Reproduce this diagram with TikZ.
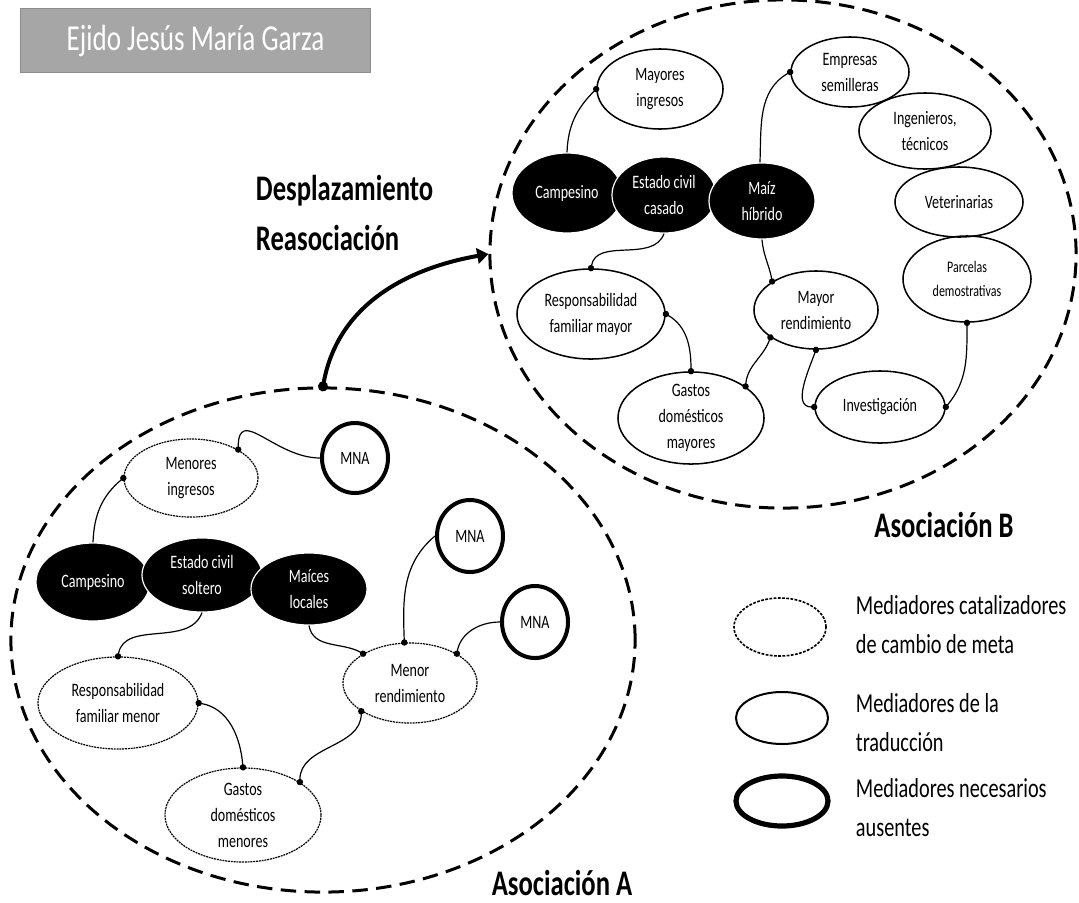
\documentclass[tikz,border=0pt]{standalone}
\usepackage{fontspec}
\setmainfont{Carlito}[FakeStretch=0.74]
\usetikzlibrary{shapes.geometric,arrows.meta}
\tikzset{
	sz/.style 2 args={inner sep=0pt, minimum width=#1*0.05cm, minimum height=#2*0.05cm},
	txt/.style={align=center, font=\fontsize{13.5}{18.5}\selectfont},
	actor/.style={ellipse, fill=black, draw=white, line width=0.3mm, text=white, txt},
	trad/.style={ellipse, draw, line width=0.38mm, txt},
	cata/.style={ellipse, draw, line width=0.3mm, dash pattern=on 1.4pt off 0.6pt, txt},
	ausente/.style={ellipse, draw, line width=1mm, txt},
	grupo/.style={ellipse, draw, line width=0.75mm, dash pattern=on 11pt off 6pt},
	enlace/.style={line width=0.3mm},
	fin/.style={enlace, -{Circle[length=4.5pt]}, shorten >=-2.2pt},
	ini/.style={enlace, {Circle[length=4.5pt]}-, shorten <=-2.2pt},
	ambos/.style={enlace, {Circle[length=4.5pt]}-{Circle[length=4.5pt]}, shorten >=-2.2pt, shorten <=-2.2pt},
	rotulo/.style={font=\fontsize{25.6}{30}\selectfont\bfseries},
	leyenda/.style={align=left, anchor=west, font=\fontsize{19.5}{27.7}\selectfont},
}

\begin{document}
\begin{tikzpicture}[x=0.025cm, y=-0.025cm]
		%%%%% START %%%%%
		\useasboundingbox (0,0) rectangle (1079,902);
		
		\node[draw=black!45, fill=black!35, line width=0.3mm, minimum width=350*0.025cm, minimum height=64*0.025cm, text=white, font=\fontsize{26}{30}\selectfont] (titulo) at (195.5,40.5) {Ejido Jesús María Garza};
		
		\node[grupo, sz={312}{252}] (asocA) at (323,640) {};
		\node[grupo, sz={293}{254}] (asocB) at (783,254) {};
		
		\node[actor, sz={55}{40}] (campB) at (567,193) {Campesino};
		\node[actor, sz={52}{38}] (estB) at (664,195) {Estado civil\\casado};
		\node[actor, sz={53}{38}] (maizB) at (762,201) {Maíz\\híbrido};
		\node[trad, sz={63}{40}] (mayingB) at (660,89) {Mayores\\ingresos};
		\node[trad, sz={59}{35}] (empB) at (850,72) {Empresas\\semilleras};
		\node[trad, sz={66}{38}] (ingB) at (925,131) {Ingenieros,\\técnicos};
		\node[trad, sz={64}{35}] (vetB) at (959,202) {Veterinarias};
		\node[trad, sz={64}{43}, font=\fontsize{11.5}{17}\selectfont] (parcB) at (967,279) {Parcelas\\demostrativas};
		\node[trad, sz={74}{45}] (respB) at (591,314) {Responsabilidad\\familiar mayor};
		\node[trad, sz={62}{39}] (mrendB) at (816,310) {Mayor\\rendimiento};
		\node[trad, sz={73}{46}, inner ysep=-6pt] (gastB) at (691,418) {Gastos\\domésticos\\mayores};
		\node[trad, sz={65}{36}] (invB) at (880,407) {Investigación};
		
		\draw[fin] (campB.90) to[out=88, in=225] (mayingB.180);
		\draw[fin] (maizB.93) to[out=88, in=210] (empB.180);
		\draw[fin] (estB.270) to[out=250, in=80] (respB.90);
		\draw[fin] (maizB.270) to[out=275, in=100] (mrendB.147);
		\draw[ambos] (respB.0) to[out=-30, in=90] (gastB.90);
		\draw[ambos] (mrendB.211) to[out=250, in=85] (gastB.30);
		\draw[ambos] (mrendB.270) to[out=250, in=180] (invB.180);
		\draw[ambos] (parcB.270) to[out=270, in=50] (invB.0);
		
		\node[actor, sz={57}{39}] (campA) at (93,582) {Campesino};
		\node[actor, sz={60}{37}] (estA) at (202,575) {Estado civil\\soltero};
		\node[actor, sz={58}{36}] (maicA) at (309,589) {Maíces\\locales};
		\node[cata, sz={67}{39}] (menA) at (191,478) {Menores\\ingresos};
		\node[cata, sz={80}{46}] (respA) at (118,703) {Responsabilidad\\familiar menor};
		\node[cata, sz={67}{40}] (menrA) at (410,683) {Menor\\rendimiento};
		\node[cata, sz={78}{47}, inner ysep=-6pt] (gastA) at (243,815) {Gastos\\domésticos\\menores};
		\node[ausente, sz={33}{35}] (mnaA1) at (355,458) {MNA};
		\node[ausente, sz={33}{36}] (mnaA2) at (470,536) {MNA};
		\node[ausente, sz={33}{36}] (mnaA3) at (535,622) {MNA};
		
		\draw[fin] (campA.90) to[out=88, in=220] (menA.180);
		\draw[ini] (menA.31) .. controls +(0,-45) and +(-45,0) .. (mnaA1.180);
		\draw[fin] (estA.270) to[out=250, in=80] (respA.90);
		\draw[fin] (maicA.270) to[out=280, in=150] (menrA.148);
		\draw[fin] (mnaA2.180) to[out=220, in=92] (menrA.98);
		\draw[fin] (mnaA3.180) to[out=180, in=80] (menrA.32);
		\draw[ambos] (respA.0) to[out=-10, in=95] (gastA.90);
		\draw[ambos] (gastA.30) to[out=90, in=270] (menrA.210);
		
		\draw[line width=1mm, {Circle[length=7pt]}-{Triangle[length=8pt, width=11pt]}, shorten <=-3.5pt] (asocA.90) to[out=80, in=190] (asocB.180);
		
		\node[rotulo, anchor=base west] (despl) at (251,200) {Desplazamiento};
		\node[rotulo, anchor=base west] (reasoc) at (251,250) {Reasociación};
		\node[rotulo, anchor=base] (etiqB) at (944,537) {Asociación B};
		\node[rotulo, anchor=base] (etiqA) at (562,895) {Asociación A};
		
		\node[cata, sz={46}{29}, line width=0.4mm, dash pattern=on 2pt off 1pt] (legcat) at (780,627) {};
		\node[trad, sz={46}{26}, line width=0.5mm] (legtrad) at (782,718) {};
		\node[ausente, sz={46}{25}, line width=1.3mm] (legaus) at (782,801) {};
		\node[leyenda] (txtcat) at (851,625) {Mediadores catalizadores\\de cambio de meta};
		\node[leyenda] (txttrad) at (851,723) {Mediadores de la\\traducción};
		\node[leyenda] (txtaus) at (851,808) {Mediadores necesarios\\ausentes};
		
		%%%%% END %%%%%
	\end{tikzpicture}
\end{document}
